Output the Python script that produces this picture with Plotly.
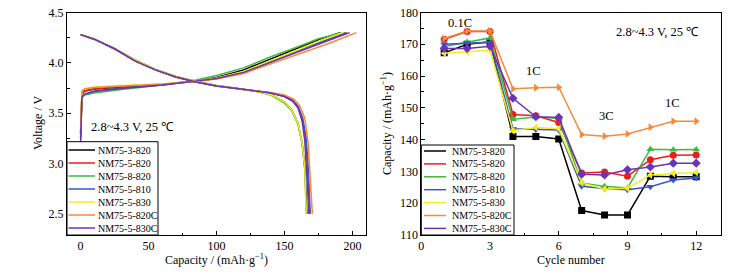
import plotly.graph_objects as go

# ---------------- data ----------------
names = ["NM75-3-820", "NM75-5-820", "NM75-8-820", "NM75-5-810",
         "NM75-5-830", "NM75-5-820C", "NM75-5-830C"]
colors = ["#000000", "#e8201c", "#3dbb3d", "#3a55c4", "#f2ee1e", "#f58a3a", "#6a34b4"]
symbols = ["square", "circle", "triangle-up", "triangle-down",
           "triangle-left", "triangle-right", "diamond"]

# charge curves (capacity, voltage)
charge_cap = {
    "NM75-3-820":  [0, 0.5, 1, 3, 10, 30, 60, 85, 100, 120, 140, 160, 175, 191],
    "NM75-5-820":  [0, 0.5, 1, 3, 10, 30, 60, 85, 100, 120, 140, 160, 178, 196],
    "NM75-8-820":  [0, 0.5, 1, 3, 10, 30, 60, 85, 100, 120, 140, 160, 175, 192],
    "NM75-5-810":  [0, 0.5, 1, 3, 10, 30, 60, 85, 100, 120, 140, 160, 178, 195],
    "NM75-5-830":  [0, 0.5, 1, 3, 10, 30, 60, 85, 100, 120, 140, 160, 176, 193],
    "NM75-5-820C": [0, 0.5, 1, 3, 10, 30, 60, 85, 100, 120, 140, 160, 182, 203],
    "NM75-5-830C": [0, 0.5, 1, 3, 10, 30, 60, 85, 100, 120, 140, 160, 179, 198],
}
charge_v = {
    "NM75-3-820":  [3.30, 3.60, 3.69, 3.72, 3.74, 3.76, 3.785, 3.82, 3.855, 3.93, 4.04, 4.15, 4.23, 4.30],
    "NM75-5-820":  [3.30, 3.62, 3.70, 3.72, 3.74, 3.765, 3.785, 3.82, 3.845, 3.91, 4.01, 4.12, 4.21, 4.30],
    "NM75-8-820":  [3.25, 3.58, 3.66, 3.68, 3.70, 3.735, 3.78, 3.83, 3.875, 3.95, 4.06, 4.16, 4.24, 4.30],
    "NM75-5-810":  [3.25, 3.58, 3.66, 3.69, 3.72, 3.75, 3.78, 3.82, 3.845, 3.91, 4.01, 4.12, 4.21, 4.30],
    "NM75-5-830":  [3.35, 3.64, 3.72, 3.745, 3.76, 3.775, 3.79, 3.82, 3.85, 3.915, 4.02, 4.13, 4.22, 4.30],
    "NM75-5-820C": [3.35, 3.64, 3.72, 3.74, 3.755, 3.77, 3.79, 3.815, 3.84, 3.895, 3.99, 4.09, 4.19, 4.30],
    "NM75-5-830C": [3.20, 3.58, 3.66, 3.69, 3.715, 3.745, 3.78, 3.82, 3.845, 3.905, 4.005, 4.11, 4.20, 4.30],
}

# discharge curves (capacity, voltage)
dis_cap = {
    "NM75-3-820":  [0, 10, 25, 40, 55, 70, 85, 100, 115, 130, 140, 150, 155, 160, 163, 165, 166.5],
    "NM75-5-820":  [0, 10, 25, 40, 55, 70, 85, 100, 115, 130, 140, 150, 156, 160, 163, 165.5, 167, 168.5],
    "NM75-8-820":  [0, 10, 25, 40, 55, 70, 85, 100, 115, 130, 140, 150, 155, 160, 163, 165, 166],
    "NM75-5-810":  [0, 10, 25, 40, 55, 70, 85, 100, 115, 130, 140, 150, 156, 160, 163.5, 166, 167.5, 169],
    "NM75-5-830":  [0, 10, 25, 40, 55, 70, 85, 100, 115, 130, 140, 150, 155, 160, 163, 165, 166],
    "NM75-5-820C": [0, 10, 25, 40, 55, 70, 85, 100, 115, 130, 140, 150, 157, 161, 165, 167.5, 169, 170.5],
    "NM75-5-830C": [0, 10, 25, 40, 55, 70, 85, 100, 115, 130, 140, 150, 156, 160, 163, 165, 166.5, 168],
}
dis_v = {
    "NM75-3-820":  [4.28, 4.235, 4.14, 4.03, 3.935, 3.865, 3.815, 3.775, 3.745, 3.715, 3.685, 3.61, 3.54, 3.40, 3.20, 2.95, 2.50],
    "NM75-5-820":  [4.28, 4.235, 4.14, 4.02, 3.93, 3.86, 3.81, 3.77, 3.745, 3.72, 3.70, 3.665, 3.62, 3.56, 3.45, 3.25, 2.95, 2.50],
    "NM75-8-820":  [4.28, 4.235, 4.14, 4.03, 3.935, 3.865, 3.815, 3.775, 3.745, 3.715, 3.68, 3.60, 3.53, 3.39, 3.20, 2.95, 2.50],
    "NM75-5-810":  [4.28, 4.235, 4.14, 4.02, 3.93, 3.86, 3.81, 3.77, 3.745, 3.72, 3.70, 3.67, 3.63, 3.57, 3.45, 3.25, 2.95, 2.50],
    "NM75-5-830":  [4.28, 4.235, 4.14, 4.03, 3.935, 3.865, 3.815, 3.775, 3.745, 3.715, 3.685, 3.61, 3.54, 3.40, 3.20, 2.95, 2.50],
    "NM75-5-820C": [4.28, 4.235, 4.14, 4.02, 3.93, 3.86, 3.81, 3.77, 3.745, 3.725, 3.705, 3.68, 3.64, 3.58, 3.45, 3.20, 2.90, 2.50],
    "NM75-5-830C": [4.28, 4.235, 4.14, 4.02, 3.93, 3.86, 3.81, 3.77, 3.745, 3.72, 3.70, 3.665, 3.62, 3.55, 3.42, 3.22, 2.90, 2.50],
}

# rate capability
cycles = [1, 2, 3, 4, 5, 6, 7, 8, 9, 10, 11, 12]
rate = {
    "NM75-3-820":  [167.3, 170.0, 170.8, 141.0, 141.0, 140.2, 117.7, 116.3, 116.3, 128.5, 128.3, 128.3],
    "NM75-5-820":  [171.6, 174.0, 174.0, 147.9, 147.5, 145.4, 129.5, 129.8, 128.5, 133.7, 135.1, 135.2],
    "NM75-8-820":  [169.3, 170.7, 172.0, 146.4, 147.1, 146.7, 126.4, 125.3, 124.8, 137.0, 136.8, 136.9],
    "NM75-5-810":  [170.0, 170.4, 170.6, 143.4, 143.2, 143.0, 125.3, 124.6, 124.2, 125.2, 127.3, 127.9],
    "NM75-5-830":  [167.2, 167.7, 168.1, 142.8, 143.8, 143.4, 126.4, 124.5, 124.7, 128.9, 129.4, 129.7],
    "NM75-5-820C": [171.8, 174.2, 174.2, 156.0, 156.3, 156.5, 141.6, 141.1, 141.8, 143.9, 145.8, 145.8],
    "NM75-5-830C": [168.7, 168.7, 169.4, 153.0, 147.2, 147.0, 129.1, 128.9, 130.5, 131.4, 132.6, 132.6],
}

left_xticks = [0, 50, 100, 150, 200]
left_yticks = [2.5, 3.0, 3.5, 4.0, 4.5]
right_xticks = [0, 3, 6, 9, 12]
right_yticks = [110, 120, 130, 140, 150, 160, 170, 180]
cond_text = "2.8~4.3 V, 25 ℃"
rate_labels = ["0.1C", "1C", "3C", "1C"]
rate_label_x = [1.7, 4.9, 8.1, 10.95]
rate_label_y = [176.8, 161.6, 147.3, 151.4]

# ---------------- figure ----------------
FONT = "Liberation Serif, Times New Roman, serif"
W, H = 748, 272
fig = go.Figure()

for n, c in zip(names, colors):
    fig.add_trace(go.Scatter(x=charge_cap[n], y=charge_v[n], mode="lines",
                             line=dict(color=c, width=1.5), showlegend=False,
                             xaxis="x", yaxis="y"))
for n, c in zip(names, colors):
    fig.add_trace(go.Scatter(x=dis_cap[n], y=dis_v[n], mode="lines",
                             line=dict(color=c, width=1.5), showlegend=False,
                             xaxis="x", yaxis="y"))
for n, c, s in zip(names, colors, symbols):
    fig.add_trace(go.Scatter(x=cycles, y=rate[n], mode="lines+markers",
                             line=dict(color=c, width=1.5),
                             marker=dict(symbol=s, size=7, color=c),
                             showlegend=False, xaxis="x2", yaxis="y2"))

def px2x(p):
    return p / W

def px2y(p):
    return 1 - p / H

axis_common = dict(showline=True, linecolor="black", linewidth=1, mirror=True,
                   ticks="inside", ticklen=4, tickcolor="black", showgrid=False,
                   zeroline=False, automargin=False,
                   tickfont=dict(family=FONT, size=12, color="black"))

ydom = [px2y(235), px2y(12.5)]
fig.update_layout(
    width=W, height=H, margin=dict(l=0, r=0, t=0, b=0, autoexpand=False),
    paper_bgcolor="white", plot_bgcolor="white",
    font=dict(family=FONT, size=12, color="black"),
    xaxis=dict(domain=[px2x(67), px2x(366)], range=[-10, 210], tickvals=left_xticks,
               minor=dict(ticks="inside", ticklen=2.5, dtick=25, tickcolor="black"),
               anchor="y", **axis_common),
    yaxis=dict(domain=ydom, range=[2.29, 4.5], tickvals=left_yticks,
               tickformat=".1f",
               minor=dict(ticks="inside", ticklen=2.5, dtick=0.25, tickcolor="black"),
               anchor="x", **axis_common),
    xaxis2=dict(domain=[px2x(421.3), px2x(720.7)], range=[0, 13.07], tickvals=right_xticks,
                minor=dict(ticks="inside", ticklen=2.5, dtick=1.5, tickcolor="black"),
                anchor="y2", **axis_common),
    yaxis2=dict(domain=ydom, range=[110, 180], tickvals=right_yticks,
                minor=dict(ticks="inside", ticklen=2.5, dtick=5, tickcolor="black"),
                anchor="x2", **axis_common),
)

ann = []
shapes = []

def text(t, x, y, xref="paper", yref="paper", size=12, angle=0, xanchor="center"):
    ann.append(dict(text=t, x=x, y=y, xref=xref, yref=yref, showarrow=False,
                    xanchor=xanchor, yanchor="middle", textangle=angle,
                    font=dict(size=size, family=FONT, color="black")))

# axis titles
text("Capacity / (mAh·g<sup>−1</sup>)", px2x(216), px2y(259.5))
text("Voltage / V", px2x(38), px2y(123), angle=-90)
text("Cycle number", px2x(571), px2y(259.5))
text("Capacity / (mAh·g<sup>−1</sup>)", px2x(387), px2y(123), angle=-90)
# condition text
text(cond_text, 38, 3.36, "x", "y", size=12.5)
text(cond_text, 10.3, 174, "x2", "y2", size=12.5)
for t, xx, yy in zip(rate_labels, rate_label_x, rate_label_y):
    text(t, xx, yy, "x2", "y2", size=12.5)

# custom legends
def legend(x0, x1, top, line_x0, line_x1, text_x, first_y, step):
    shapes.append(dict(type="rect", xref="paper", yref="paper",
                       x0=px2x(x0), x1=px2x(x1), y0=px2y(235), y1=px2y(top),
                       line=dict(color="black", width=1), fillcolor="white", layer="above"))
    for i, (n, c) in enumerate(zip(names, colors)):
        yy = first_y + i * step
        shapes.append(dict(type="line", xref="paper", yref="paper",
                           x0=px2x(line_x0), x1=px2x(line_x1), y0=px2y(yy), y1=px2y(yy),
                           line=dict(color=c, width=1.5), layer="above"))
        text(n, px2x(text_x), px2y(yy), size=10, xanchor="left")

legend(67, 158, 141.7, 68.5, 95, 96, 150, 13)
legend(421.3, 514, 145, 424, 446, 450, 151, 12.9)

fig.update_layout(annotations=ann, shapes=shapes)
fig.write_html("out.html", config={"displayModeBar": False},
               post_script="document.body.style.margin='0';document.body.style.padding='0';")
